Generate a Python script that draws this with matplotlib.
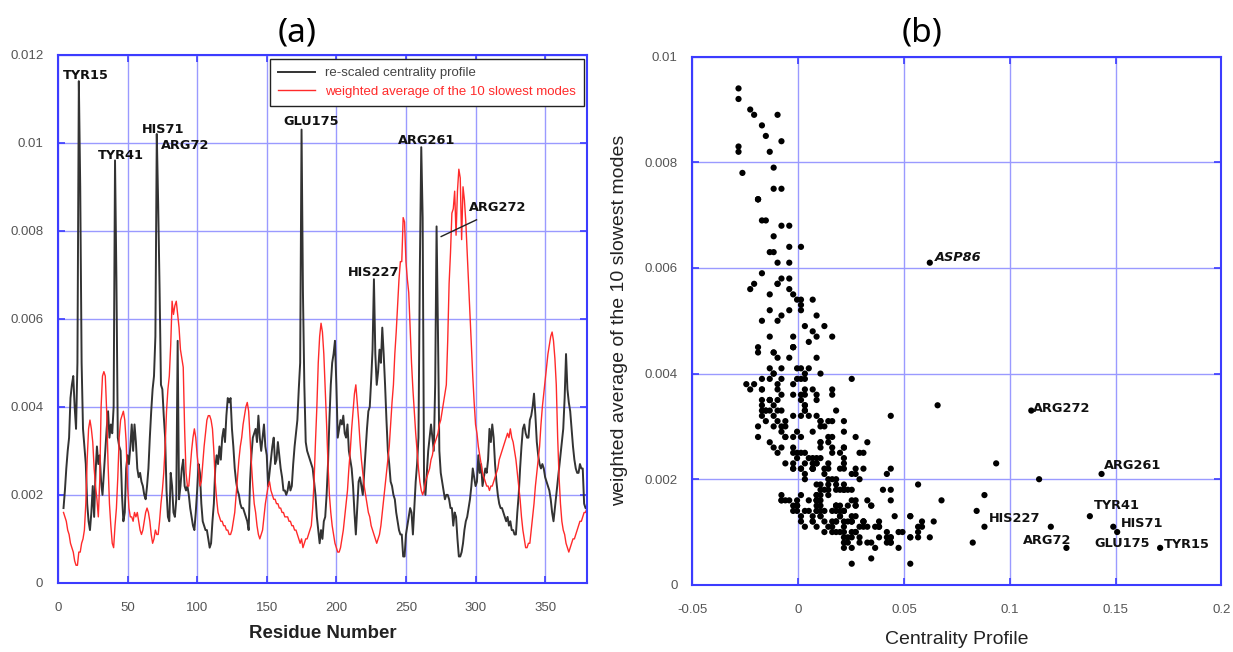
import numpy as np
import matplotlib.pyplot as plt

# ===============================
# DATA
# ===============================
residues = np.arange(4, 381)

# re-scaled centrality profile, units of 1e-4 (one value per residue, 4..380)
centrality_rescaled_1e4 = [
    17, 21, 26, 30, 33, 42, 45, 47, 40, 35,
    50, 114, 90, 50, 35, 31, 27, 18, 14, 12,
    16, 22, 15, 25, 31, 27, 29, 23, 20, 25,
    30, 35, 39, 33, 36, 34, 40, 96, 69, 33,
    31, 30, 20, 14, 16, 26, 29, 27, 31, 36,
    30, 36, 32, 26, 24, 25, 23, 22, 20, 19,
    22, 26, 33, 39, 44, 47, 56, 102, 86, 67,
    45, 44, 38, 33, 21, 15, 14, 25, 22, 16,
    15, 19, 55, 19, 22, 26, 28, 22, 21, 22,
    20, 17, 15, 13, 12, 16, 21, 27, 25, 18,
    14, 13, 12, 12, 10, 8, 9, 14, 18, 26,
    29, 27, 31, 28, 33, 35, 32, 38, 42, 41,
    42, 35, 31, 26, 23, 21, 20, 18, 17, 17,
    16, 15, 14, 12, 23, 29, 33, 34, 35, 32,
    38, 33, 30, 33, 36, 31, 29, 22, 25, 28,
    31, 33, 27, 28, 32, 29, 26, 24, 21, 21,
    20, 21, 23, 21, 22, 27, 31, 34, 37, 44,
    50, 103, 66, 45, 32, 30, 29, 28, 27, 26,
    23, 20, 15, 12, 9, 12, 10, 14, 15, 20,
    27, 37, 45, 50, 52, 55, 45, 33, 35, 37,
    36, 38, 34, 33, 36, 30, 28, 26, 22, 16,
    11, 17, 23, 24, 22, 20, 25, 30, 35, 39,
    40, 46, 53, 69, 52, 45, 48, 53, 50, 58,
    52, 45, 37, 30, 27, 23, 22, 20, 19, 16,
    14, 12, 11, 11, 6, 6, 11, 13, 15, 17,
    16, 11, 17, 23, 27, 33, 72, 99, 83, 23,
    20, 25, 30, 33, 36, 33, 30, 45, 81, 57,
    30, 25, 23, 21, 19, 20, 20, 19, 17, 17,
    13, 16, 15, 10, 6, 6, 7, 9, 12, 14,
    15, 17, 19, 22, 26, 24, 22, 23, 29, 25,
    27, 22, 24, 26, 25, 28, 35, 32, 36, 33,
    27, 23, 20, 18, 17, 17, 16, 15, 14, 15,
    13, 14, 12, 12, 11, 11, 16, 20, 26, 31,
    35, 36, 34, 33, 33, 37, 38, 40, 43, 38,
    32, 29, 27, 26, 27, 26, 24, 23, 22, 21,
    19, 16, 14, 17, 20, 23, 26, 29, 32, 35,
    42, 52, 44, 41, 39, 35, 31, 28, 26, 25,
    25, 27, 26, 26, 18, 17, 17,
]

# weighted average of the 10 slowest modes, units of 1e-4
slow_modes_1e4 = [
    16, 15, 14, 12, 11, 9, 8, 7, 5, 4,
    4, 7, 7, 9, 10, 12, 18, 28, 35, 37,
    35, 32, 26, 22, 19, 15, 23, 40, 47, 48,
    47, 39, 27, 18, 13, 9, 8, 13, 17, 24,
    33, 37, 38, 39, 37, 32, 22, 17, 15, 15,
    14, 16, 15, 16, 14, 12, 11, 12, 14, 16,
    17, 16, 14, 11, 9, 10, 12, 11, 11, 14,
    18, 21, 25, 31, 39, 44, 47, 54, 64, 61,
    63, 64, 61, 58, 53, 51, 49, 35, 25, 22,
    22, 26, 30, 33, 35, 33, 29, 26, 22, 23,
    27, 31, 34, 37, 38, 38, 37, 35, 30, 23,
    19, 16, 15, 14, 14, 13, 13, 12, 12, 11,
    11, 12, 14, 16, 20, 24, 28, 31, 33, 36,
    38, 40, 41, 39, 33, 27, 22, 18, 16, 13,
    11, 10, 11, 12, 15, 18, 20, 22, 23, 21,
    20, 19, 19, 18, 18, 17, 17, 16, 16, 15,
    15, 15, 14, 14, 13, 13, 12, 12, 11, 10,
    9, 10, 8, 9, 10, 10, 11, 12, 13, 17,
    23, 32, 40, 50, 56, 59, 57, 52, 44, 36,
    27, 20, 16, 13, 11, 9, 8, 7, 7, 8,
    10, 12, 15, 18, 21, 26, 30, 35, 39, 43,
    45, 41, 37, 32, 28, 25, 22, 20, 18, 16,
    15, 13, 12, 11, 10, 9, 10, 11, 13, 16,
    19, 22, 25, 28, 31, 36, 41, 45, 52, 57,
    63, 69, 73, 73, 83, 82, 73, 69, 66, 58,
    50, 44, 39, 34, 30, 26, 23, 21, 20, 21,
    23, 24, 25, 26, 28, 29, 31, 32, 33, 34,
    36, 37, 39, 41, 43, 45, 55, 68, 75, 84,
    85, 89, 79, 89, 94, 92, 78, 90, 87, 82,
    75, 68, 61, 54, 47, 41, 36, 34, 31, 29,
    27, 25, 24, 23, 22, 22, 21, 22, 22, 23,
    24, 25, 26, 28, 29, 30, 31, 32, 33, 34,
    33, 35, 33, 32, 30, 28, 25, 22, 19, 15,
    12, 10, 8, 8, 9, 9, 12, 15, 18, 22,
    25, 28, 31, 36, 40, 43, 46, 49, 52, 54,
    56, 57, 55, 51, 45, 33, 24, 18, 14, 12,
    11, 9, 8, 7, 8, 9, 10, 10, 11, 12,
    13, 14, 14, 15, 16, 16, 17,
]

# profile was re-scaled as  rescaled = shift + factor * centrality
rescale_shift = 0.00213
rescale_factor = 0.0542

rescaled = np.array(centrality_rescaled_1e4) * 1e-4
slow = np.array(slow_modes_1e4) * 1e-4
centrality = (rescaled - rescale_shift) / rescale_factor

# ===============================
# FIGURE
# ===============================
plt.rcParams['font.family'] = ['Liberation Sans', 'DejaVu Sans']
BLUE = '#3c3cff'
GRID = '#9a9aff'
TICK = '#555555'
LAB = dict(family='DejaVu Sans', fontweight='bold', fontsize=9.3, color='#111111')

fig = plt.figure(figsize=(12.33, 6.52), dpi=100)
ax1 = fig.add_axes([0.047, 0.106, 0.429, 0.810])
ax2 = fig.add_axes([0.5616, 0.103, 0.429, 0.810])


def style(ax):
    ax.grid(True, color=GRID, lw=1.0)
    ax.set_axisbelow(True)
    for s in ax.spines.values():
        s.set_color(BLUE)
        s.set_linewidth(1.5)
    ax.tick_params(direction='in', length=5, width=1.2, color=BLUE,
                   labelcolor=TICK, labelsize=9.5, top=True, right=True)
    ax.tick_params(axis='x', pad=14)
    ax.tick_params(axis='y', pad=10.5)


# (a) profiles along the sequence
ax1.plot(residues, rescaled, color='#333333', lw=1.4,
         label='re-scaled centrality profile')
ax1.plot(residues, slow, color='#ff2a2a', lw=1.0,
         label='weighted average of the 10 slowest modes')
ax1.set_xlim(0, 380)
ax1.set_ylim(0, 0.012)
ax1.set_xticks(np.arange(0, 351, 50))
ax1.set_yticks(np.arange(0, 0.0121, 0.002))
ax1.set_yticklabels(['0', '0.002', '0.004', '0.006', '0.008', '0.01', '0.012'])
style(ax1)
ax1.set_xlabel('Residue Number', fontsize=13.4, fontweight='bold', color='#222222', va='center')
ax1.xaxis.set_label_coords(0.5, -51 / 528)

leg = ax1.legend(loc='upper right', bbox_to_anchor=(0.995, 0.992), borderaxespad=0,
                 fontsize=9.5, frameon=True, fancybox=False, framealpha=1,
                 edgecolor='#222222', handlelength=2.8, borderpad=0.6, labelspacing=0.5)
leg.get_frame().set_linewidth(1.0)
leg.get_texts()[0].set_color('#444444')
leg.get_texts()[1].set_color('#ff2a2a')

for name, x, y in [('TYR15', 3.6, 0.01152), ('TYR41', 28.5, 0.0097),
                   ('HIS71', 60.2, 0.0103), ('ARG72', 73.9, 0.00993),
                   ('GLU175', 162, 0.01048), ('ARG261', 244.6, 0.01005),
                   ('HIS227', 208.4, 0.00705), ('ARG272', 295.2, 0.00853)]:
    ax1.text(x, y, name, ha='left', va='center', **LAB)
ax1.plot([275.3, 300.7], [0.00787, 0.00825], color='#222222', lw=1.0)

# (b) centrality vs slow-mode average
ax2.scatter(centrality, slow, s=20, color='black', edgecolors='none', zorder=3)
ax2.set_xlim(-0.05, 0.2)
ax2.set_ylim(0, 0.01)
ax2.set_xticks([-0.05, 0, 0.05, 0.1, 0.15, 0.2])
ax2.set_xticklabels(['-0.05', '0', '0.05', '0.1', '0.15', '0.2'])
ax2.set_yticks([0, 0.002, 0.004, 0.006, 0.008, 0.01])
ax2.set_yticklabels(['0', '0.002', '0.004', '0.006', '0.008', '0.01'])
style(ax2)
ax2.set_xlabel('Centrality Profile', fontsize=14, color='#222222', va='center')
ax2.xaxis.set_label_coords(0.5, -55 / 528)
ax2.set_ylabel('weighted average of the 10 slowest modes', fontsize=14,
               color='#222222', va='center')
ax2.yaxis.set_label_coords(-0.137, 0.5)

for name, x, y in [('ARG272', 0.1107, 0.00333), ('ARG261', 0.1443, 0.00226),
                   ('TYR41', 0.1399, 0.0015), ('HIS71', 0.1525, 0.00117),
                   ('HIS227', 0.0899, 0.00125), ('ARG72', 0.1064, 0.00084),
                   ('GLU175', 0.1399, 0.00078), ('TYR15', 0.1727, 0.00076)]:
    ax2.text(x, y, name, ha='left', va='center', **LAB)
ax2.text(0.0646, 0.00619, 'ASP86', ha='left', va='center',
         **{**LAB, 'fontstyle': 'italic'})

fig.text(0.2409, 0.949, '(a)', ha='center', va='center', family='Noto Sans', fontsize=24)
fig.text(0.7478, 0.949, '(b)', ha='center', va='center', family='Noto Sans', fontsize=24)

fig.savefig('out.png', dpi=100)
